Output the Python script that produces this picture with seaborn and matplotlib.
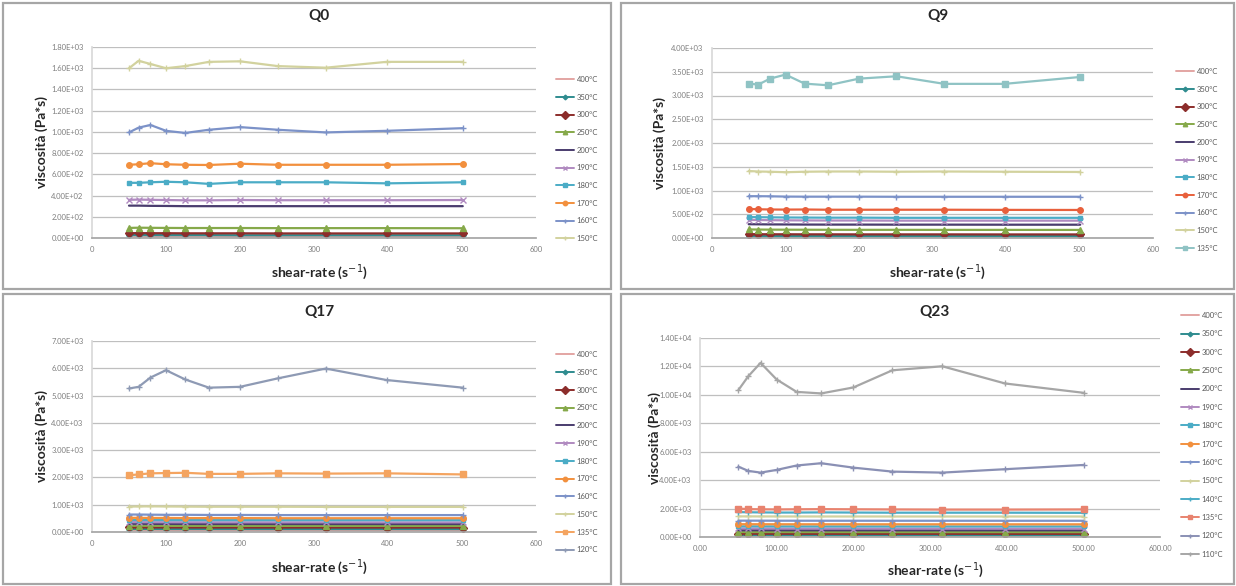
import matplotlib
matplotlib.use("Agg")
import matplotlib.pyplot as plt
import seaborn as sns
from matplotlib.ticker import FuncFormatter, MultipleLocator
from matplotlib.lines import Line2D

# ---------------- data ----------------
shear_rate = [50, 63, 79, 100, 126, 158, 200, 251, 316, 398, 501]

q0_temps = ["400°C", "350°C", "300°C", "250°C", "200°C", "190°C", "180°C", "170°C", "160°C", "150°C"]
q0_values = [
    [15, 15, 15, 14, 14, 14, 14, 14, 14, 14, 14],
    [28, 28, 27, 27, 27, 27, 26, 26, 26, 26, 26],
    [45, 46, 45, 45, 44, 44, 44, 43, 43, 43, 43],
    [95, 97, 96, 95, 94, 94, 94, 93, 93, 93, 92],
    [305, 305, 303, 302, 300, 300, 300, 300, 300, 300, 300],
    [360, 362, 360, 358, 355, 355, 358, 356, 356, 356, 358],
    [520, 520, 525, 530, 525, 510, 525, 525, 525, 515, 525],
    [690, 695, 705, 695, 690, 688, 700, 690, 690, 690, 697],
    [995, 1040, 1065, 1010, 990, 1020, 1045, 1020, 995, 1010, 1035],
    [1600, 1670, 1640, 1600, 1620, 1660, 1665, 1620, 1605, 1660, 1660],
]

q9_temps = ["400°C", "350°C", "300°C", "250°C", "200°C", "190°C", "180°C", "170°C", "160°C", "150°C", "135°C"]
q9_values = [
    [25, 25, 24, 24, 24, 24, 23, 23, 23, 23, 23],
    [45, 44, 44, 43, 43, 43, 42, 42, 42, 42, 42],
    [80, 79, 78, 78, 77, 77, 76, 76, 76, 75, 75],
    [180, 178, 176, 175, 174, 173, 172, 172, 171, 171, 170],
    [290, 288, 286, 285, 283, 282, 282, 281, 281, 280, 280],
    [380, 378, 375, 372, 370, 368, 368, 365, 365, 365, 365],
    [440, 438, 435, 432, 430, 428, 428, 425, 425, 425, 425],
    [610, 605, 600, 598, 600, 595, 595, 595, 595, 592, 590],
    [880, 880, 878, 872, 870, 870, 870, 868, 868, 868, 868],
    [1410, 1400, 1395, 1385, 1395, 1400, 1400, 1395, 1400, 1395, 1390],
    [3250, 3230, 3355, 3440, 3250, 3215, 3355, 3405, 3245, 3245, 3390],
]

q17_temps = ["400°C", "350°C", "300°C", "250°C", "200°C", "190°C", "180°C", "170°C", "160°C", "150°C", "135°C", "120°C"]
q17_values = [
    [60, 60, 59, 59, 58, 58, 58, 57, 57, 57, 57],
    [110, 110, 109, 108, 108, 107, 107, 106, 106, 106, 105],
    [170, 170, 168, 167, 166, 165, 165, 164, 164, 163, 163],
    [230, 230, 228, 227, 226, 225, 225, 224, 224, 223, 223],
    [300, 300, 298, 297, 296, 295, 295, 294, 294, 293, 293],
    [360, 360, 358, 357, 356, 355, 355, 354, 354, 353, 353],
    [440, 440, 438, 437, 436, 435, 435, 434, 434, 433, 433],
    [520, 520, 515, 515, 510, 510, 510, 505, 505, 505, 505],
    [640, 640, 635, 630, 630, 625, 625, 620, 620, 620, 620],
    [930, 935, 940, 935, 930, 925, 925, 925, 920, 920, 920],
    [2080, 2110, 2150, 2160, 2170, 2130, 2130, 2150, 2140, 2150, 2110],
    [5260, 5320, 5660, 5930, 5590, 5290, 5320, 5630, 5990, 5570, 5290],
]

q23_temps = ["400°C", "350°C", "300°C", "250°C", "200°C", "190°C", "180°C", "170°C", "160°C",
             "150°C", "140°C", "135°C", "120°C", "110°C"]
q23_values = [
    [70, 70, 69, 69, 68, 68, 68, 67, 67, 67, 67],
    [140, 140, 138, 137, 137, 136, 136, 135, 135, 135, 134],
    [230, 230, 228, 227, 226, 225, 225, 224, 224, 223, 223],
    [350, 350, 348, 347, 346, 345, 345, 344, 344, 343, 343],
    [480, 480, 478, 476, 475, 474, 474, 473, 473, 472, 472],
    [600, 600, 598, 596, 595, 594, 594, 593, 593, 592, 592],
    [750, 750, 748, 746, 745, 744, 744, 743, 743, 742, 742],
    [900, 900, 898, 896, 895, 894, 894, 893, 893, 892, 892],
    [1150, 1150, 1148, 1146, 1145, 1144, 1144, 1143, 1143, 1142, 1142],
    [1450, 1450, 1448, 1446, 1445, 1444, 1444, 1443, 1443, 1442, 1442],
    [1750, 1740, 1730, 1720, 1720, 1730, 1720, 1710, 1710, 1710, 1700],
    [2000, 1960, 1950, 1940, 1950, 1960, 1950, 1940, 1930, 1930, 1940],
    [4950, 4650, 4530, 4720, 5030, 5190, 4880, 4600, 4530, 4770, 5070],
    [10330, 11310, 12250, 11080, 10210, 10100, 10520, 11730, 12010, 10800, 10140],
]

titles = ["Q0", "Q9", "Q17", "Q23"]
y_label = "viscosità (Pa*s)"
x_label = "shear-rate (s$^{-1}$)"

# ---------------- styles ----------------
STYLE = {
    "400°C": ("#E3A5A3", None, 0),
    "350°C": ("#2F8C8F", "D", 3),
    "300°C": ("#8C2D2B", "D", 4.5),
    "250°C": ("#86A94A", "^", 4),
    "200°C": ("#4A3C6E", None, 0),
    "190°C": ("#B08AC0", "x", 4),
    "180°C": ("#4BACC6", "s", 3.5),
    "170°C": ("#F2903E", "o", 4),
    "160°C": ("#7C92C8", "+", 4),
    "150°C": ("#D2D29E", "+", 4),
    "140°C": ("#95B3D7", "+", 4),
    "135°C": ("#8FC3C4", "s", 4),
    "120°C": ("#8E9AB4", "+", 4),
    "110°C": ("#A6A6A6", "+", 4),
}
OVERRIDE = {
    "Q9": {"170°C": "#E8603C"},
    "Q17": {"135°C": "#F4A460"},
    "Q23": {"120°C": "#8A90B4", "135°C": "#E8836F", "140°C": "#4BACC6"},
}

sns.set_theme(style="white")
plt.rcParams["font.family"] = ["Lato", "DejaVu Sans"]

W, H = 1236, 586
fig = plt.figure(figsize=(W / 100, H / 100), dpi=100)
fig.patch.set_facecolor("white")


def fx(px):
    return px / W


def fy(py):
    return 1 - py / H


# panel borders
for (x0, y0, x1, y1) in [(3, 3, 611, 289), (621, 3, 1234, 289), (3, 294, 611, 584), (621, 294, 1234, 584)]:
    fig.add_artist(plt.Rectangle((fx(x0), fy(y1)), fx(x1) - fx(x0), fy(y0) - fy(y1),
                                 transform=fig.transFigure, fill=False, edgecolor="#A6A6A6", lw=1.6))

panels = [
    dict(title="Q0", temps=q0_temps, vals=q0_values, box=(92, 47, 536, 238), ymax=1800, ystep=200,
         xfmt="{:.0f}", leg=(556, 76, 18.3), ylab_x=42, title_y=16, xlab_y=272),
    dict(title="Q9", temps=q9_temps, vals=q9_values, box=(712, 48, 1153, 238), ymax=4000, ystep=500,
         xfmt="{:.0f}", leg=(1176, 68, 18.3), ylab_x=660, title_y=16, xlab_y=272),
    dict(title="Q17", temps=q17_temps, vals=q17_values, box=(92, 341, 536, 532), ymax=7000, ystep=1000,
         xfmt="{:.0f}", leg=(556, 351, 18.4), ylab_x=42, title_y=312, xlab_y=567),
    dict(title="Q23", temps=q23_temps, vals=q23_values, box=(700, 338, 1160, 537), ymax=14000, ystep=2000,
         xfmt="{:.2f}", leg=(1181, 312, 19.0), ylab_x=655, title_y=312, xlab_y=570),
]

for p in panels:
    x0, y0, x1, y1 = p["box"]
    ax = fig.add_axes([fx(x0), fy(y1), fx(x1) - fx(x0), fy(y0) - fy(y1)])
    ov = OVERRIDE.get(p["title"], {})
    handles = []
    for t, v in zip(p["temps"], p["vals"]):
        c, m, ms = STYLE[t]
        c = ov.get(t, c)
        kw = dict(color=c, linewidth=1.6, ax=ax, legend=False)
        if m is not None:
            kw.update(marker=m, markersize=ms, markeredgecolor=c, markerfacecolor=c,
                      markeredgewidth=1.0)
        sns.lineplot(x=shear_rate, y=v, **kw)
        handles.append(Line2D([0], [0], color=c, lw=1.4, marker=m if m else None,
                              markersize=ms * 0.8, markeredgecolor=c, markerfacecolor=c, label=t))
    ax.set_xlim(0, 600)
    ax.set_ylim(0, p["ymax"])
    ax.xaxis.set_major_locator(MultipleLocator(100))
    ax.yaxis.set_major_locator(MultipleLocator(p["ystep"]))
    xf = p["xfmt"]
    ax.xaxis.set_major_formatter(FuncFormatter(lambda v, pos, xf=xf: xf.format(v)))
    ax.yaxis.set_major_formatter(FuncFormatter(lambda v, pos: f"{v:.2E}"))
    ax.tick_params(axis="both", labelsize=5.5, colors="#7F7F7F", length=0, pad=6)
    ax.yaxis.grid(True, color="#BFBFBF", lw=0.9)
    ax.xaxis.grid(False)
    for s in ["top", "right"]:
        ax.spines[s].set_visible(False)
    ax.spines["left"].set_color("#D9D9D9")
    ax.spines["bottom"].set_color("#A6A6A6")
    ax.set_xlabel("")
    ax.set_ylabel("")
    ax.set_facecolor("white")

    # title and axis labels
    cx = (x0 + x1) / 2
    fig.text(fx(cx + 5), fy(p["title_y"]), p["title"], ha="center", va="center",
             fontsize=11, fontweight="bold", color="#262626")
    fig.text(fx(cx + 5), fy(p["xlab_y"]), x_label, ha="center", va="center",
             fontsize=10, fontweight="bold", color="#262626")
    fig.text(fx(p["ylab_x"]), fy((y0 + y1) / 2), y_label, ha="center", va="center",
             rotation=90, fontsize=10, fontweight="bold", color="#262626")

    lx, ly, sp = p["leg"]
    fsz = 5.5
    fpx = fsz * 100 / 72
    fig.legend(handles=handles, loc="upper left", bbox_to_anchor=(fx(lx), fy(ly)),
               bbox_transform=fig.transFigure, frameon=False, fontsize=fsz,
               handlelength=2.4, handletextpad=0.3, borderpad=0, borderaxespad=0,
               labelspacing=(sp - fpx) / fpx, labelcolor="#595959")

fig.savefig("out.png", dpi=100, facecolor="white")
